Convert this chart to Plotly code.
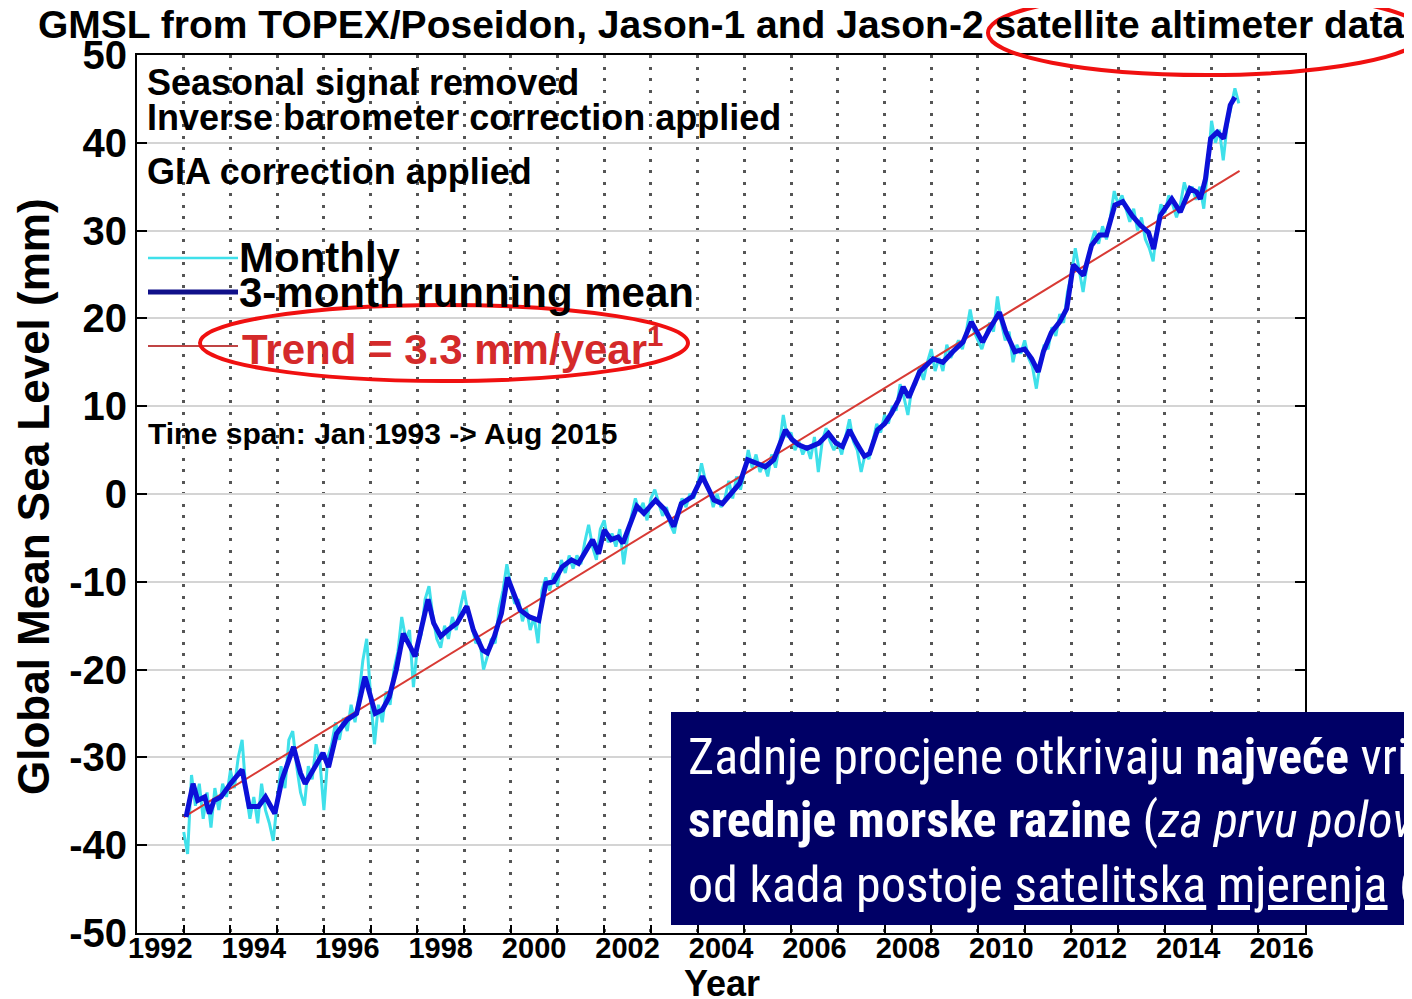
import plotly.graph_objects as go

# --- Données (mm) ---
START_YEAR = 1993

# Série mensuelle (janv. 1993 -> août 2015), une ligne par année
monthly_mm = [
    -38.5, -41.0, -32.0, -35.5, -33.0, -37.0, -34.0, -38.0, -33.5, -36.0, -33.0, -34.5,  # 1993
    -31.5, -33.5, -30.0, -28.0, -34.0, -37.0, -34.5, -37.5, -33.0, -36.0, -37.5, -39.5,  # 1994
    -35.0, -31.0, -33.5, -28.0, -27.0, -31.0, -34.0, -35.5, -31.0, -32.5, -28.5, -30.5,  # 1995
    -36.0, -30.0, -28.5, -26.0, -28.0, -25.5, -27.0, -24.0, -26.0, -23.0, -19.0, -16.5,  # 1996
    -23.0, -28.5, -24.0, -26.0, -22.5, -24.0, -20.0, -18.0, -14.0, -16.5, -15.5, -22.0,  # 1997
    -17.5, -16.0, -12.0, -10.5, -14.0, -16.5, -17.5, -15.0, -16.5, -14.0, -15.5, -13.0,  # 1998
    -11.0, -13.5, -15.0, -17.0, -16.5, -20.0, -18.5, -16.5, -17.0, -13.0, -11.0, -8.0,   # 1999
    -10.5, -12.5, -12.0, -14.5, -13.0, -15.5, -14.0, -17.0, -11.0, -9.5, -11.0, -9.0,    # 2000
    -10.5, -7.5, -9.0, -7.0, -8.5, -7.0, -8.0, -5.5, -3.5, -6.0, -7.5, -4.0,             # 2001
    -3.0, -5.5, -4.5, -6.0, -4.0, -8.0, -5.0, -2.5, -0.5, -2.0, -1.0, -3.0,              # 2002
    -0.5, 0.5, -1.0, -2.5, -1.5, -3.5, -4.5, -2.0, -0.5, -1.5, 0.0, -0.5,                # 2003
    1.0, 3.5, 1.5, 0.5, -1.5, 0.0, -1.5, -0.5, 1.5, -0.5, 2.0, 0.5,                      # 2004
    2.5, 5.0, 3.0, 4.5, 2.5, 3.5, 2.0, 4.5, 3.0, 5.5, 9.0, 6.5,                          # 2005
    7.0, 5.0, 6.0, 4.5, 5.5, 4.0, 6.5, 2.5, 6.0, 7.5, 6.0, 5.0,                          # 2006
    6.0, 4.5, 6.5, 8.5, 6.0, 5.0, 2.5, 4.5, 4.0, 6.0, 8.0, 7.0,                          # 2007
    9.0, 8.0, 10.0, 9.5, 12.5, 11.0, 9.0, 12.0, 12.5, 14.5, 13.0, 15.0,                  # 2008
    16.5, 14.0, 15.5, 14.0, 17.0, 15.5, 16.5, 17.5, 16.5, 18.5, 21.0, 18.5,              # 2009
    17.5, 16.5, 18.0, 19.5, 18.5, 22.5, 19.5, 17.5, 18.5, 15.0, 17.0, 16.0,              # 2010
    17.5, 15.5, 14.5, 12.0, 15.0, 17.0, 16.5, 19.0, 18.0, 20.5, 19.5, 23.0,              # 2011
    25.0, 28.0, 25.5, 23.0, 26.0, 28.5, 30.0, 28.5, 30.5, 29.0, 31.5, 34.5,              # 2012
    33.0, 34.0, 32.5, 31.0, 32.5, 30.0, 31.5, 29.0, 28.0, 26.5, 30.5, 33.0,              # 2013
    32.0, 34.0, 33.0, 31.5, 33.0, 35.5, 34.0, 35.0, 33.5, 35.0, 32.5, 37.0,              # 2014
    42.5, 40.0, 41.5, 38.0, 42.0, 44.0, 46.2, 44.5,                                      # 2015
]
monthly_years = [START_YEAR + i / 12 for i in range(len(monthly_mm))]

# Moyenne glissante sur 3 mois (points relevés)
mean3_years = [
    1993.05, 1993.2, 1993.3, 1993.45, 1993.55, 1993.65, 1993.8, 1994.0, 1994.25, 1994.4,
    1994.6, 1994.75, 1994.95, 1995.1, 1995.35, 1995.5, 1995.6, 1995.8, 1995.98, 1996.1,
    1996.27, 1996.5, 1996.7, 1996.88, 1997.1, 1997.25, 1997.4, 1997.55, 1997.7, 1997.85,
    1997.95, 1998.1, 1998.23, 1998.35, 1998.5, 1998.65, 1998.85, 1999.06, 1999.2, 1999.4,
    1999.5, 1999.65, 1999.8, 1999.93, 2000.05, 2000.2, 2000.4, 2000.6, 2000.75, 2000.92,
    2001.1, 2001.3, 2001.45, 2001.6, 2001.75, 2001.88, 2002.0, 2002.15, 2002.3, 2002.4,
    2002.58, 2002.7, 2002.85, 2003.1, 2003.3, 2003.49, 2003.65, 2003.89, 2004.1, 2004.35,
    2004.53, 2004.74, 2004.9, 2005.07, 2005.28, 2005.45, 2005.63, 2005.88, 2006.02, 2006.16,
    2006.34, 2006.6, 2006.8, 2006.96, 2007.1, 2007.25, 2007.4, 2007.57, 2007.68, 2007.85,
    2008.0, 2008.15, 2008.3, 2008.4, 2008.52, 2008.75, 2009.04, 2009.25, 2009.46, 2009.68,
    2009.86, 2010.1, 2010.25, 2010.46, 2010.6, 2010.79, 2011.0, 2011.15, 2011.29, 2011.4,
    2011.57, 2011.75, 2011.9, 2012.04, 2012.26, 2012.43, 2012.6, 2012.75, 2012.93, 2013.1,
    2013.3, 2013.48, 2013.65, 2013.76, 2013.9, 2014.15, 2014.33, 2014.54, 2014.68, 2014.76,
    2014.87, 2014.98, 2015.12, 2015.26, 2015.4, 2015.5,
]
mean3_mm = [
    -36.8, -33.0, -34.9, -34.5, -36.4, -34.9, -34.5, -33.0, -31.4, -35.6,
    -35.6, -34.5, -36.4, -32.6, -28.8, -31.8, -33.0, -31.1, -29.5, -31.1,
    -27.3, -25.7, -25.0, -20.8, -25.0, -24.6, -23.1, -20.0, -15.9, -17.4,
    -18.5, -15.0, -12.0, -14.7, -16.2, -15.5, -14.7, -12.8, -15.5, -17.8,
    -18.1, -16.2, -13.6, -9.5, -11.3, -13.2, -14.0, -14.4, -10.2, -10.0,
    -8.3, -7.5, -7.9, -6.4, -5.2, -6.8, -4.1, -5.2, -4.9, -5.6,
    -3.3, -1.4, -2.2, -0.7, -1.8, -3.7, -1.1, -0.3, 2.0, -0.7,
    -1.1, 0.1, 1.2, 3.9, 3.5, 3.1, 3.9, 7.3, 6.2, 5.6,
    5.2, 5.8, 6.9, 5.8, 5.4, 7.3, 5.8, 4.3, 4.6, 7.3,
    8.0, 9.2, 10.7, 12.2, 11.0, 13.9, 15.4, 15.0, 16.2, 17.3,
    19.6, 17.3, 18.8, 20.7, 18.4, 16.2, 16.5, 15.4, 13.9, 16.2,
    18.4, 19.6, 21.1, 26.1, 24.9, 28.3, 29.5, 29.5, 32.9, 33.3,
    31.7, 30.6, 29.8, 27.9, 31.7, 33.6, 32.1, 34.8, 34.4, 33.6,
    35.9, 40.5, 41.2, 40.5, 44.3, 45.2,
]

# Tendance 3.3 mm/an
trend_years = [1993.0, 2015.6]
trend_mm = [-36.8, 36.8]

# Axes
year_grid = list(range(1993, 2017))
year_labels = [str(y) for y in range(1992, 2017, 2)]
y_ticks = list(range(-50, 51, 10))

# --- Style ---
CYAN = "#3fe0ea"
BLUE = "#0c10d8"
NAVY = "#10108a"
RED = "#d83a34"
ELLIPSE = "#f01010"
BOX_BG = "#000066"
FONT = "Liberation Sans, Arial, sans-serif"
NARROW = "Liberation Sans Narrow, Roboto Condensed, DejaVu Sans Condensed, Liberation Sans, sans-serif"

# zone du graphe en pixels de la page (le body HTML ajoute 8 px de marge)
OFF = 8
W, H = 1412, 999
L, R, T, B = 137, 1305, 55, 933


def px_x(px):
    return (px - L) / (R - L)


def px_y(py):
    return (B - py) / (B - T)


fig = go.Figure()

fig.add_trace(go.Scatter(x=monthly_years, y=monthly_mm, mode="lines",
                         line=dict(color=CYAN, width=3), hoverinfo="skip"))
fig.add_trace(go.Scatter(x=trend_years, y=trend_mm, mode="lines",
                         line=dict(color=RED, width=2), hoverinfo="skip"))
fig.add_trace(go.Scatter(x=mean3_years, y=mean3_mm, mode="lines",
                         line=dict(color=BLUE, width=5), hoverinfo="skip"))

shapes = []
# légende dessinée à la main
for py, col, w in [(258, CYAN, 2.5), (292, NAVY, 5), (346, "#c04444", 2)]:
    shapes.append(dict(type="line", xref="paper", yref="paper",
                       x0=px_x(148), x1=px_x(238), y0=px_y(py), y1=px_y(py),
                       line=dict(color=col, width=w)))
# ellipses rouges
shapes.append(dict(type="circle", xref="paper", yref="paper",
                   x0=px_x(988), x1=px_x(1424), y0=px_y(-9), y1=px_y(75),
                   line=dict(color=ELLIPSE, width=4)))
shapes.append(dict(type="circle", xref="paper", yref="paper",
                   x0=px_x(200), x1=px_x(688), y0=px_y(305), y1=px_y(381),
                   line=dict(color=ELLIPSE, width=4)))
# encadré bleu
shapes.append(dict(type="rect", xref="paper", yref="paper",
                   x0=px_x(671), x1=px_x(1430), y0=px_y(712), y1=px_y(925),
                   fillcolor=BOX_BG, line=dict(width=0), layer="above"))

annotations = []


def note(txt, px, py, size, color="black", font=FONT, anchor="left", angle=0):
    annotations.append(dict(text=txt, xref="paper", yref="paper", x=px_x(px), y=px_y(py),
                            xanchor=anchor, yanchor="middle", showarrow=False, textangle=angle,
                            font=dict(family=font, size=size, color=color)))


note("<b>GMSL from TOPEX/Poseidon, Jason-1 and Jason-2 satellite altimeter data</b>", 721, 25, 39, anchor="center")
note("<b>Global Mean Sea Level (mm)</b>", 33, 497, 44, anchor="center", angle=-90)
note("<b>Year</b>", 722, 983, 36, anchor="center")

note("<b>Seasonal signal removed</b>", 145, 82, 36)
note("<b>Inverse barometer correction applied</b>", 145, 117, 36)
note("<b>GIA correction applied</b>", 145, 171, 36)
note("<b>Monthly</b>", 237, 257, 42)
note("<b>3-month running mean</b>", 237, 292, 42)
note("<b>Trend = 3.3 mm/year<sup>1</sup></b>", 240, 346, 42, color="#d42a2a")
note("<b>Time span: Jan 1993 -> Aug 2015</b>", 146, 433, 30)

note("Zadnje procjene otkrivaju <b>najveće</b> vrijednosti", 686, 757, 50, "white", NARROW)
note("<b>srednje morske razine</b> (<i>za prvu polovicu</i>", 686, 820, 50, "white", NARROW)
note("od kada postoje <u>satelitska</u> <u>mjerenja</u> (od 1993.)", 686, 885, 50, "white", NARROW)

fig.update_layout(
    width=W, height=H,
    margin=dict(l=L - OFF, r=W - (R - OFF), t=T - OFF, b=H - (B - OFF)),
    paper_bgcolor="white", plot_bgcolor="white",
    showlegend=False,
    font=dict(family=FONT, color="black"),
    shapes=shapes, annotations=annotations,
    xaxis=dict(
        range=[1992, 2017], showline=True, linecolor="black", linewidth=2, mirror=True,
        tickvals=[int(t) + 0.5 for t in year_labels], ticktext=[f"<b>{t}</b>" for t in year_labels],
        ticks="", showgrid=False, zeroline=False, tickfont=dict(size=29), automargin=False,
        ticklabelstandoff=-12,
        minor=dict(tickvals=year_grid, ticks="inside", ticklen=8, tickcolor="black", tickwidth=2,
                   showgrid=True, gridcolor="#555555", gridwidth=3, griddash="3px,8.5px"),
    ),
    yaxis=dict(
        range=[-50, 50], tickvals=y_ticks, ticktext=[f"<b>{v}</b>" for v in y_ticks],
        showline=True, linecolor="black", linewidth=2, mirror="ticks",
        ticks="inside", ticklen=10, tickwidth=2, tickcolor="black",
        showgrid=True, gridcolor="#d4d4d4", gridwidth=2, zeroline=False,
        tickfont=dict(size=40), automargin=False,
    ),
)

fig.write_html("out.html")
